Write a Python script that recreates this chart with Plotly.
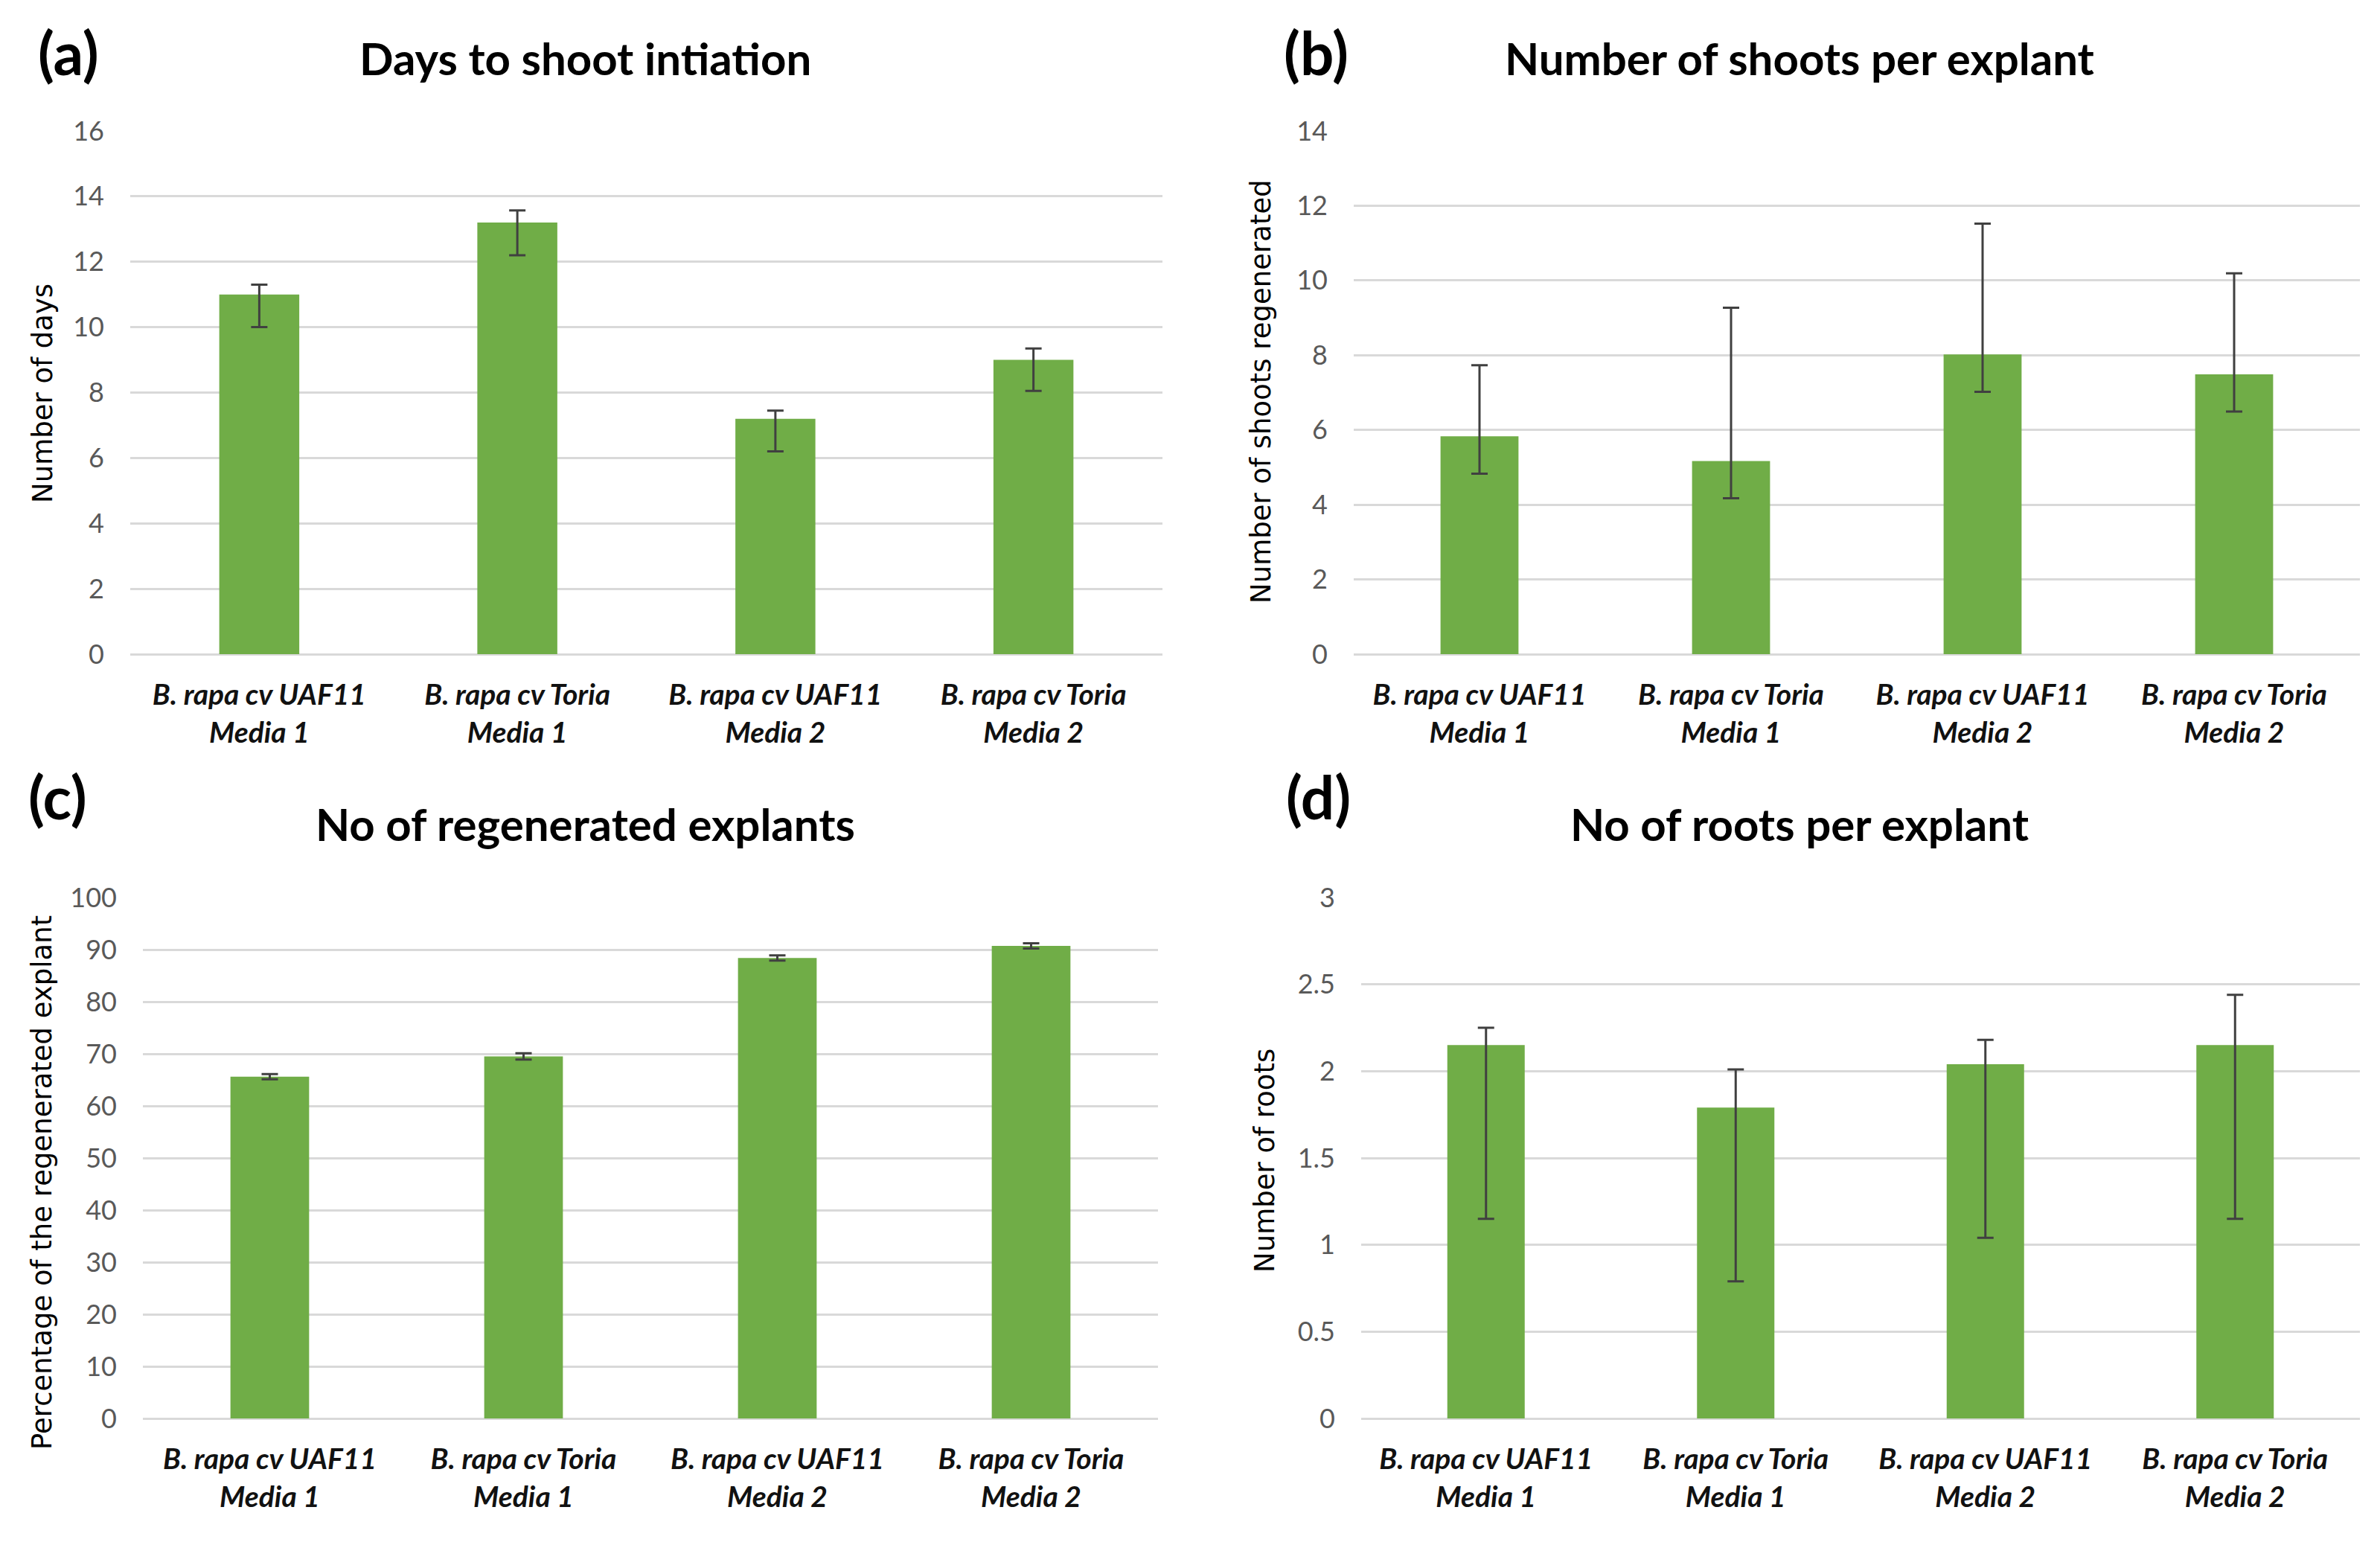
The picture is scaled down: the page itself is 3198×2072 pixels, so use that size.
import plotly.graph_objects as go

W, H = 3198, 2072
OFF = 8  # compensate for the page's default body margin

# ---------------- data ----------------
categories = [
    "B. rapa cv UAF11<br>Media 1",
    "B. rapa cv Toria<br>Media 1",
    "B. rapa cv UAF11<br>Media 2",
    "B. rapa cv Toria<br>Media 2",
]

days_mean = [11.0, 13.2, 7.2, 9.0]
days_err_plus = [0.3, 0.37, 0.25, 0.35]
days_err_minus = [1.0, 1.0, 1.0, 0.95]

shoots_mean = [5.83, 5.17, 8.02, 7.49]
shoots_err_plus = [1.9, 4.1, 3.5, 2.7]
shoots_err_minus = [1.0, 1.0, 1.0, 1.0]

explants_mean = [65.6, 69.5, 88.4, 90.7]
explants_err_plus = [0.5, 0.6, 0.5, 0.5]
explants_err_minus = [0.5, 0.6, 0.5, 0.5]

roots_mean = [2.15, 1.79, 2.04, 2.15]
roots_err_plus = [0.1, 0.22, 0.14, 0.29]
roots_err_minus = [1.0, 1.0, 1.0, 1.0]

panel_letters = ["(a)", "(b)", "(c)", "(d)"]
panel_titles = [
    "Days to shoot intiation",
    "Number of shoots per explant",
    "No of regenerated explants",
    "No of roots per explant",
]
y_titles = [
    "Number of days",
    "Number of shoots regenerated",
    "Percentage of the regenerated explant",
    "Number of roots",
]
y_ranges = [[0, 16], [0, 14], [0, 100], [0, 3]]
y_dticks = [2, 2, 10, 0.5]

# ---------------- style ----------------
BAR = "#70AD47"
GRID = "#D9D9D9"
ERR = "#404040"
TICK_COL = "#595959"

# plot areas in pixels: (left, right, top, bottom)
areas = [
    (175, 1562, 176, 879),
    (1819, 3171, 176, 879),
    (192, 1556, 1206, 1906),
    (1829, 3171, 1206, 1906),
]
letter_pos = [(92, 70), (1768, 70), (77, 1070), (1771, 1070)]
title_pos = [(786, 78), (2418, 78), (786, 1107), (2418, 1107)]
ytitle_pos = [(57, 529), (1694, 526), (56, 1589), (1699, 1559)]

series = [
    (days_mean, days_err_plus, days_err_minus),
    (shoots_mean, shoots_err_plus, shoots_err_minus),
    (explants_mean, explants_err_plus, explants_err_minus),
    (roots_mean, roots_err_plus, roots_err_minus),
]


def px(x):
    return (x - OFF) / W


def py(y):
    return 1 - (y - OFF) / H


fig = go.Figure()

for i, (mean, ep, em) in enumerate(series):
    sfx = "" if i == 0 else str(i + 1)
    fig.add_trace(go.Bar(
        x=categories, y=mean,
        xaxis="x" + sfx, yaxis="y" + sfx,
        marker=dict(color=BAR, line=dict(width=0)),
        error_y=dict(type="data", symmetric=False, array=ep, arrayminus=em,
                     color=ERR, thickness=3, width=11),
        showlegend=False,
    ))

layout = dict(
    width=W, height=H,
    margin=dict(l=0, r=0, t=0, b=0, autoexpand=False),
    paper_bgcolor="white", plot_bgcolor="white",
    bargap=0.69,
    showlegend=False,
    annotations=[],
)

for i in range(4):
    sfx = "" if i == 0 else str(i + 1)
    l, r, t, b = areas[i]
    layout["xaxis" + sfx] = dict(
        domain=[px(l), px(r)],
        anchor="y" + sfx,
        automargin=False,
        showgrid=False, showline=False, zeroline=False,
        ticks="",
        tickfont=dict(family="Lato", size=39, color="#111111",
                      weight="bold", style="italic"),
        ticklabelstandoff=28,
        fixedrange=True,
    )
    layout["yaxis" + sfx] = dict(
        domain=[py(b), py(t)],
        anchor="x" + sfx,
        automargin=False,
        range=y_ranges[i], dtick=y_dticks[i], tick0=0,
        showgrid=True, gridcolor=GRID, gridwidth=3,
        zeroline=True, zerolinecolor=GRID, zerolinewidth=3,
        showline=False, ticks="",
        tickfont=dict(family="Lato", size=36, color=TICK_COL),
        ticklabelstandoff=34,
        fixedrange=True,
    )
    lx, ly = letter_pos[i]
    layout["annotations"].append(dict(
        text="<b>" + panel_letters[i] + "</b>", x=px(lx), y=py(ly),
        xref="paper", yref="paper", xanchor="center", yanchor="middle",
        showarrow=False, font=dict(family="Lato", size=80, color="black"),
    ))
    tx, ty = title_pos[i]
    layout["annotations"].append(dict(
        text="<b>" + panel_titles[i] + "</b>", x=px(tx), y=py(ty),
        xref="paper", yref="paper", xanchor="center", yanchor="middle",
        showarrow=False, font=dict(family="Lato", size=60, color="black"),
    ))
    yx, yy = ytitle_pos[i]
    layout["annotations"].append(dict(
        text=y_titles[i], x=px(yx), y=py(yy), textangle=-90,
        xref="paper", yref="paper", xanchor="center", yanchor="middle",
        showarrow=False, font=dict(family="DejaVu Sans", size=37, color="black"),
    ))

fig.update_layout(**layout)
fig.write_html("out.html")
